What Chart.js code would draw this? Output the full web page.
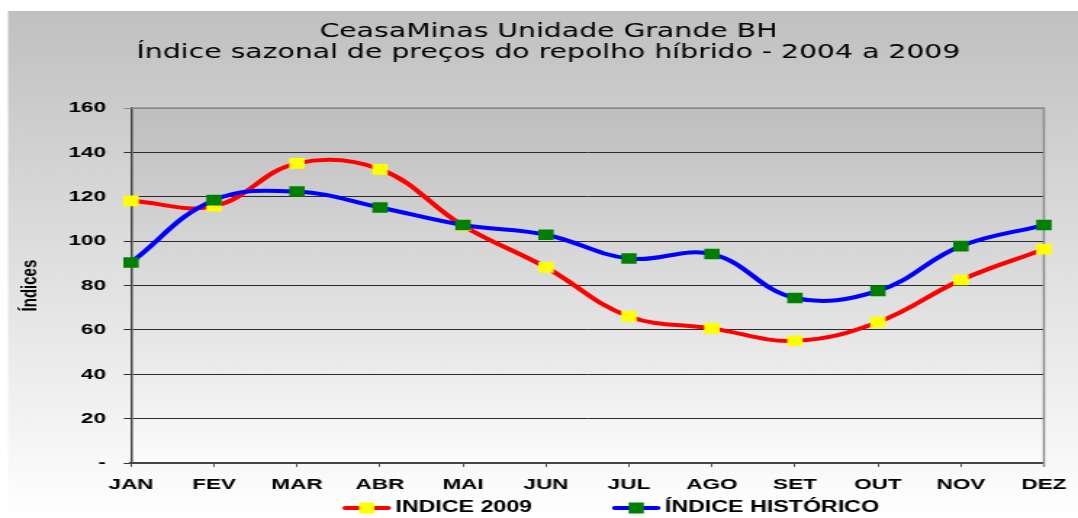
<!DOCTYPE html>
<html>
<head>
<meta charset="utf-8">
<script src="https://cdn.jsdelivr.net/npm/chart.js@4.4.1/dist/chart.umd.min.js"></script>
<style>
  html, body { margin: 0; padding: 0; background: #fff; overflow: hidden; }
</style>
</head>
<body>
<!-- drawn at 743 wide, then stretched to 1078 like the original export -->
<canvas id="sazonal" width="743" height="518" style="display:block;width:1078px;height:518px"></canvas>
<script>
const months = ['JAN', 'FEV', 'MAR', 'ABR', 'MAI', 'JUN', 'JUL', 'AGO', 'SET', 'OUT', 'NOV', 'DEZ'];
const indice2009 = [118.2, 115.8, 135.1, 132.4, 107.0, 88.2, 66.1, 60.7, 55.1, 63.5, 82.5, 96.4];
const indiceHistorico = [90.4, 118.5, 122.4, 115.2, 107.3, 102.9, 92.2, 94.2, 74.4, 77.6, 97.8, 107.3];
const yMax = 160;
const yStep = 20;

const red = '#ff0000';
const blue = '#0000ff';
const yellow = '#ffff00';
const green = '#007f00';
const gridDark = '#2b2b2b';
const frameGray = '#8c8c8c';

Chart.defaults.font.family = '"Liberation Sans", Arial, sans-serif';
Chart.defaults.font.size = 15.5;
Chart.defaults.font.weight = 'bold';
Chart.defaults.color = '#000';

// grey backgrounds, top/right frame and the line+marker legend
const backdrop = {
  id: 'backdrop',
  beforeDraw(chart) {
    const { ctx, chartArea: a, width, height } = chart;
    ctx.save();
    let g = ctx.createLinearGradient(0, 11, 0, height);
    g.addColorStop(0, '#c0c0c0');
    g.addColorStop(1, '#ffffff');
    ctx.fillStyle = g;
    ctx.fillRect(5.5, 11, width - 5.5, height - 11);
    g = ctx.createLinearGradient(0, a.top, 0, a.bottom);
    g.addColorStop(0, '#bebebe');
    g.addColorStop(1, '#fcfcfc');
    ctx.fillStyle = g;
    ctx.fillRect(a.left, a.top, a.width, a.height);
    ctx.restore();
  },
  beforeDatasetsDraw(chart) {
    const { ctx, chartArea: a } = chart;
    ctx.save();
    ctx.strokeStyle = frameGray;
    ctx.lineWidth = 1.5;
    ctx.beginPath();
    ctx.moveTo(a.left, a.top);
    ctx.lineTo(a.right, a.top);
    ctx.lineTo(a.right, a.bottom + 4);
    ctx.stroke();
    ctx.restore();
  },
  afterDraw(chart) {
    const { ctx } = chart;
    const y = 508;
    let x = 236;
    ctx.save();
    ctx.font = 'bold 16px "Liberation Sans", Arial, sans-serif';
    ctx.textBaseline = 'middle';
    ctx.textAlign = 'left';
    chart.data.datasets.forEach((ds) => {
      ctx.strokeStyle = ds.borderColor;
      ctx.lineWidth = 4;
      ctx.lineCap = 'round';
      ctx.beginPath();
      ctx.moveTo(x + 2, y);
      ctx.lineTo(x + 31.5, y);
      ctx.stroke();
      ctx.fillStyle = ds.pointBackgroundColor;
      ctx.fillRect(x + 11.5, y - 5.5, 10.5, 11);
      ctx.fillStyle = '#000';
      ctx.fillText(ds.label, x + 36.5, y);
      x += 36.5 + ctx.measureText(ds.label).width + 55;
    });
    ctx.restore();
  },
};

new Chart(document.getElementById('sazonal'), {
  type: 'line',
  data: {
    labels: months,
    datasets: [
      {
        label: 'INDICE 2009',
        data: indice2009,
        borderColor: red,
        borderWidth: 4,
        pointBackgroundColor: yellow,
        pointBorderWidth: 0,
        pointStyle: 'rect',
        pointRadius: 7.5,
        order: 1,
      },
      {
        label: 'ÍNDICE HISTÓRICO',
        data: indiceHistorico,
        borderColor: blue,
        borderWidth: 4,
        pointBackgroundColor: green,
        pointBorderWidth: 0,
        pointStyle: 'rect',
        pointRadius: 7.5,
        order: 0,
      },
    ],
  },
  options: {
    responsive: false,
    animation: false,
    tension: 0.4,
    layout: {
      padding: { top: 0, right: 0, bottom: 0, left: 13 },
    },
    scales: {
      x: {
        offset: false,
        grid: {
          drawOnChartArea: false,
          drawTicks: true,
          tickLength: 4,
          color: '#555',
        },
        border: { color: '#444', width: 2 },
        ticks: { padding: 8, maxRotation: 0, autoSkip: false },
        afterFit(scale) {
          scale.height = 55;
        },
      },
      y: {
        min: 0,
        max: yMax,
        grid: {
          color: (c) => (c.tick && c.tick.value === yMax ? frameGray : gridDark),
          tickLength: 5,
          lineWidth: 1,
        },
        border: { color: '#444', width: 1.5 },
        ticks: {
          stepSize: yStep,
          padding: 12.3,
          callback: (v) => (v === 0 ? '-' : v),
        },
        title: {
          display: true,
          text: 'Índices',
          font: { size: 15, weight: 'bold', lineHeight: 1 },
          padding: { top: 0, bottom: 0 },
        },
        afterFit(scale) {
          scale.width = 77.3;
        },
      },
      // empty right gutter so the title centres like the original
      gutter: {
        position: 'right',
        grid: { display: false },
        border: { display: false },
        ticks: { display: false },
        afterFit(scale) {
          scale.width = 21.6;
        },
      },
    },
    plugins: {
      legend: { display: false },
      tooltip: { enabled: false },
      title: {
        display: true,
        text: ['CeasaMinas Unidade Grande BH', 'Índice sazonal de preços do repolho híbrido - 2004 a 2009'],
        color: '#000',
        font: { family: '"DejaVu Sans", Verdana, sans-serif', size: 19.5, weight: 'normal', lineHeight: 1.08 },
        padding: { top: 21.5, bottom: 44.5 },
      },
    },
  },
  plugins: [backdrop],
});
</script>
</body>
</html>
